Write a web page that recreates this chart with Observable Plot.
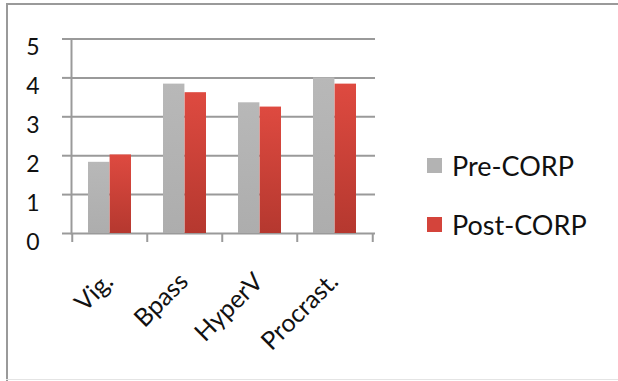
<!DOCTYPE html>
<html>
<head>
<meta charset="utf-8">
<script src="https://cdn.jsdelivr.net/npm/d3@7"></script>
<script src="https://cdn.jsdelivr.net/npm/@observablehq/plot@0.6"></script>
<style>
  body { margin: 0; background: #fff; }
  #chart { position: relative; width: 618px; height: 381px; overflow: hidden; font-family: Lato, sans-serif; background: #fff; }
  #chart svg { position: absolute; left: 0; top: 0; }
  .edge { position: absolute; background: #9a9a9a; }
  .edge.top { left: 6px; top: 3px; width: 612px; height: 2px; }
  .edge.left { left: 6px; top: 3px; width: 2px; height: 378px; }
  .edge.bottom { left: 6px; top: 379px; width: 612px; height: 1px; background: #e4e4e4; }
  #legend { position: absolute; left: 427px; top: 150px; }
  .item { display: flex; align-items: center; height: 30px; margin-bottom: 29px; font-size: 27px; color: #111; }
  .swatch { width: 15px; height: 15px; margin-right: 10px; }
</style>
</head>
<body>
<div id="chart">
  <div class="edge top"></div>
  <div class="edge left"></div>
  <div class="edge bottom"></div>
  <div id="legend"></div>
</div>
<script>
// Scores before and after CORP, by measure
const categories = ["Vig.", "Bpass", "HyperV", "Procrast."];
const preCORP = [1.83, 3.84, 3.36, 4.0];
const postCORP = [2.02, 3.62, 3.25, 3.84];
const seriesNames = ["Pre-CORP", "Post-CORP"];
const seriesColors = ["#b3b3b3", "#d4443b"];
const yTicks = [0, 1, 2, 3, 4, 5];

const rows = categories.map((c, i) => ({category: c, pre: preCORP[i], post: postCORP[i]}));

const W = 618, H = 381;
const ml = 71, mr = 245, mt = 38.5, mb = 148;
const step = (W - ml - mr) / categories.length;
const barW = step * 0.286;           // one bar; each group is two bars side by side
const pad = 1 - (2 * barW) / step;
const axisGray = "#9a9a9a";

const svg = Plot.plot({
  width: W,
  height: H,
  marginLeft: ml,
  marginRight: mr,
  marginTop: mt,
  marginBottom: mb,
  style: {fontFamily: "Lato, sans-serif", color: "#111", background: "transparent", overflow: "visible"},
  x: {domain: categories, paddingInner: pad, paddingOuter: pad / 2, label: null},
  y: {domain: [0, 5], label: null},
  marks: [
    Plot.gridY(yTicks, {stroke: axisGray, strokeOpacity: 1, strokeWidth: 2, insetRight: -2}),
    Plot.frame({anchor: "left", stroke: axisGray, strokeWidth: 2}),
    Plot.barY(rows, {x: "category", y: "pre", fill: "url(#fillPre)", insetRight: barW}),
    Plot.barY(rows, {x: "category", y: "post", fill: "url(#fillPost)", insetLeft: barW}),
    // y tick marks, then the y labels set slightly below their gridlines
    Plot.axisY(yTicks, {
      tickSize: 9, tickFormat: () => "", stroke: axisGray, strokeWidth: 2, label: null
    }),
    Plot.axisY(yTicks, {
      tickSize: 0, tickPadding: 32, dy: 9, fontSize: 23, fill: "#111", label: null
    }),
    // category boundary ticks below the baseline
    Plot.axisX(categories, {
      tickSize: 9, tickFormat: () => "", dx: -step / 2,
      stroke: axisGray, strokeWidth: 2, label: null
    }),
    Plot.axisX(categories.slice(-1), {
      tickSize: 9, tickFormat: () => "", dx: step / 2,
      stroke: axisGray, strokeWidth: 2, label: null
    }),
    Plot.axisX(categories, {
      tickSize: 0, tickPadding: 44, tickRotate: -45, dx: -1,
      fontSize: 25, fill: "#111", label: null
    })
  ]
});

// vertical shading on the bars
const defs = d3.select(svg).insert("defs", ":first-child");
const gradients = [
  ["fillPre", "#b8b8b8", "#adadad"],
  ["fillPost", "#de4a40", "#b5382f"]
];
for (const [id, top, bottom] of gradients) {
  const g = defs.append("linearGradient").attr("id", id)
    .attr("x1", 0).attr("y1", 0).attr("x2", 0).attr("y2", 1);
  g.append("stop").attr("offset", "0%").attr("stop-color", top);
  g.append("stop").attr("offset", "100%").attr("stop-color", bottom);
}

const chart = document.getElementById("chart");
chart.insertBefore(svg, chart.firstChild);

const legend = document.getElementById("legend");
seriesNames.forEach((name, i) => {
  const item = document.createElement("div");
  item.className = "item";
  const sw = document.createElement("span");
  sw.className = "swatch";
  sw.style.background = seriesColors[i];
  const label = document.createElement("span");
  label.textContent = name;
  item.append(sw, label);
  legend.append(item);
});
</script>
</body>
</html>
